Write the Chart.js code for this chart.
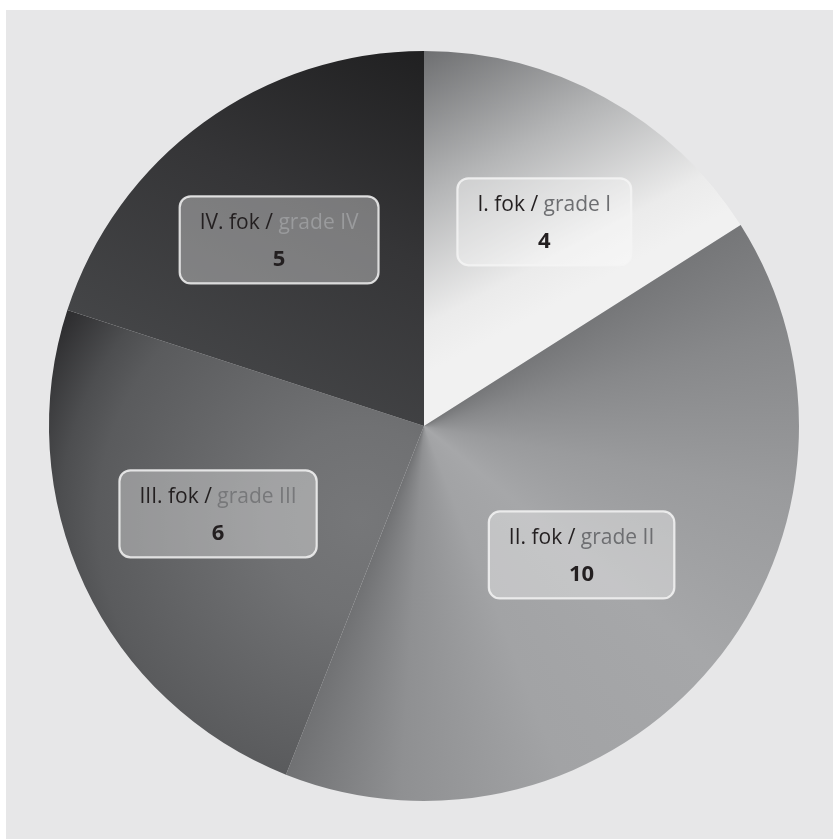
<!DOCTYPE html>
<html>
<head>
<meta charset="utf-8">
<script src="https://cdn.jsdelivr.net/npm/chart.js@4/dist/chart.umd.min.js"></script>
<style>
  html, body { margin: 0; padding: 0; background: #ffffff; width: 833px; height: 839px; overflow: hidden; }
  #wrap { position: absolute; left: 6px; top: 10px; width: 827px; height: 829px; background: #e7e7e8; }
</style>
</head>
<body>
<div id="wrap"><canvas id="c"></canvas></div>
<script>
// ---- data ----
const categoriesHu = ['I. fok', 'II. fok', 'III. fok', 'IV. fok'];
const categoriesEn = ['grade I', 'grade II', 'grade III', 'grade IV'];
const values = [4, 10, 6, 5];

// ---- styling helpers ----
function geom(chart) {
  const a = chart.chartArea;
  return { cx: (a.left + a.right) / 2, cy: (a.top + a.bottom) / 2, r: Math.min(a.right - a.left, a.bottom - a.top) / 2 };
}
function addStops(g, stops) { stops.forEach(s => g.addColorStop(s[0], s[1])); return g; }

const fallback = ['#cfcfcf', '#9a9b9d', '#5f6062', '#38393b'];

function sliceFill(ctx) {
  const chart = ctx.chart;
  if (!chart.chartArea) return fallback[ctx.dataIndex];
  const c = chart.ctx;
  const { cx, cy, r } = geom(chart);
  switch (ctx.dataIndex) {
    case 0: {
      const g = c.createLinearGradient(cx, cy - r, cx + 0.36 * r, cy - 0.33 * r);
      return addStops(g, [[0, '#6e6f71'], [0.45, '#b4b5b6'], [0.85, '#ebebeb'], [1, '#f1f1f1']]);
    }
    case 1: {
      const g = c.createConicGradient(-Math.PI / 2, cx, cy);
      return addStops(g, [[0.155, '#747577'], [0.21, '#87888a'], [0.28, '#9a9b9d'], [0.36, '#a6a7a9'],
                          [0.44, '#a2a3a5'], [0.51, '#8f9092'], [0.565, '#6d6e70']]);
    }
    case 2: {
      const g = c.createRadialGradient(cx - 0.17 * r, cy + 0.25 * r, 0, cx - 0.17 * r, cy + 0.25 * r, r);
      return addStops(g, [[0, '#767779'], [0.25, '#707173'], [0.7, '#5a5b5d'], [0.8, '#4d4e50'], [0.94, '#303032'], [1, '#2a2a2c']]);
    }
    default: {
      const g = c.createLinearGradient(cx + 0.016 * r, cy - 1.02 * r, cx - 0.46 * r, cy - 0.07 * r);
      return addStops(g, [[0, '#1f1f20'], [0.5, '#353537'], [1, '#444547']]);
    }
  }
}

function roundRect(c, x, y, w, h, rad) {
  c.beginPath();
  c.moveTo(x + rad, y);
  c.lineTo(x + w - rad, y);
  c.arcTo(x + w, y, x + w, y + rad, rad);
  c.lineTo(x + w, y + h - rad);
  c.arcTo(x + w, y + h, x + w - rad, y + h, rad);
  c.lineTo(x + rad, y + h);
  c.arcTo(x, y + h, x, y + h - rad, rad);
  c.lineTo(x, y + rad);
  c.arcTo(x, y, x + rad, y, rad);
  c.closePath();
}

const boxLabels = {
  id: 'boxLabels',
  afterDatasetsDraw(chart, args, opts) {
    const c = chart.ctx;
    const meta = chart.getDatasetMeta(0);
    meta.data.forEach((arc, i) => {
      const p = arc.getProps(['x', 'y', 'startAngle', 'endAngle', 'outerRadius'], true);
      const mid = (p.startAngle + p.endAngle) / 2 + opts.angleShift[i] * Math.PI / 180;
      const d = p.outerRadius * opts.radiusFrac[i];
      const bx = p.x + Math.cos(mid) * d;
      const by = p.y + Math.sin(mid) * d;
      const hu = chart.data.labels[i] + ' / ';
      const en = categoriesEn[i];
      c.save();
      c.font = opts.font;
      const w1 = c.measureText(hu).width;
      const w2 = c.measureText(en).width;
      const tw = w1 + w2;
      const bw = tw + 2 * opts.padX;
      const bh = opts.boxH;
      roundRect(c, bx - bw / 2, by - bh / 2, bw, bh, 11);
      c.fillStyle = 'rgba(255,255,255,0.35)';
      c.fill();
      c.lineWidth = 2.2;
      c.strokeStyle = 'rgba(245,245,245,0.85)';
      c.stroke();
      c.textBaseline = 'middle';
      c.textAlign = 'left';
      const tx = bx - tw / 2;
      const ty = by - 17;
      c.fillStyle = '#231f20';
      c.fillText(hu, tx, ty);
      c.fillStyle = opts.enColors[i];
      c.fillText(en, tx + w1, ty);
      c.font = opts.valueFont;
      c.textAlign = 'center';
      c.fillStyle = '#231f20';
      c.fillText(String(chart.data.datasets[0].data[i]), bx, by + 20);
      c.restore();
    });
  }
};

new Chart(document.getElementById('c'), {
  type: 'pie',
  data: {
    labels: categoriesHu,
    datasets: [{
      data: values,
      backgroundColor: sliceFill,
      borderWidth: 0
    }]
  },
  options: {
    responsive: true,
    maintainAspectRatio: false,
    animation: false,
    layout: { padding: { left: 20, right: 11, top: 41, bottom: 38 } },
    plugins: {
      legend: { display: false },
      tooltip: { enabled: false },
      boxLabels: {
        radiusFrac: [0.632, 0.543, 0.597, 0.629],
        angleShift: [1.7, -0.3, 2.1, -1.9],
        enColors: ['#6d6e71', '#6d6e71', '#77787a', '#9a9b9d'],
        font: '21px "Open Sans"',
        valueFont: 'bold 22px "Open Sans"',
        padX: 20,
        boxH: 87
      }
    }
  },
  plugins: [boxLabels]
});
</script>
</body>
</html>
